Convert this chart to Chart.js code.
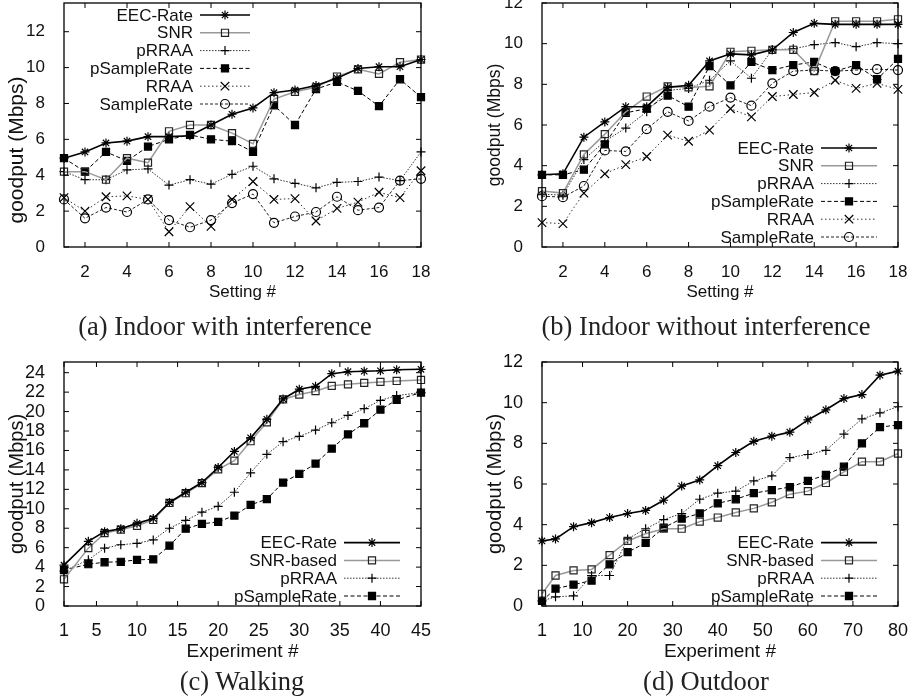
<!DOCTYPE html>
<html lang="en">
<head>
<meta charset="UTF-8">
<title>goodput per setting / experiment</title>
<style>
  body { margin: 0; background: #fff; width: 914px; height: 698px; position: relative; overflow: hidden; }
  canvas { position: absolute; }
  .caption {
    position: absolute;
    font-family: "Liberation Serif", "Times New Roman", serif;
    font-size: 26.5px;
    color: #222;
    white-space: nowrap;
    transform: translate(-50%, -50%);
  }
</style>
<script src="https://cdn.jsdelivr.net/npm/chart.js"></script>
</head>
<body>
<canvas id="chartA" width="457" height="310" style="left:0;top:0"></canvas>
<canvas id="chartB" width="457" height="310" style="left:457px;top:0"></canvas>
<canvas id="chartC" width="457" height="335" style="left:0;top:335px"></canvas>
<canvas id="chartD" width="457" height="335" style="left:457px;top:335px"></canvas>
<div class="caption" style="left:225px;top:326px">(a) Indoor with interference</div>
<div class="caption" style="left:706px;top:326px">(b) Indoor without interference</div>
<div class="caption" style="left:242px;top:681px">(c) Walking</div>
<div class="caption" style="left:706px;top:681px">(d) Outdoor</div>
<script>
// ---- data ----
// (a) indoor with interference, setting 1..18
const settings = [1, 2, 3, 4, 5, 6, 7, 8, 9, 10, 11, 12, 13, 14, 15, 16, 17, 18];
const eecA = [4.95, 5.3, 5.8, 5.9, 6.15, 6.15, 6.2, 6.8, 7.4, 7.75, 8.6, 8.75, 9.0, 9.4, 9.95, 10.05, 10.05, 10.45];
const snrA = [4.2, 4.2, 3.75, 4.95, 4.7, 6.45, 6.8, 6.8, 6.35, 5.75, 8.25, 8.65, 8.9, 9.5, 9.9, 9.65, 10.3, 10.45];
const prraaA = [4.2, 3.75, 3.75, 4.3, 4.35, 3.45, 3.75, 3.5, 4.05, 4.5, 3.8, 3.55, 3.3, 3.6, 3.65, 3.9, 3.7, 5.3];
const psampleA = [4.95, 4.2, 5.3, 4.8, 5.6, 6.0, 6.25, 6.0, 5.9, 5.3, 7.9, 6.8, 8.8, 9.2, 8.7, 7.85, 9.35, 8.35];
const rraaA = [2.75, 2.0, 2.8, 2.85, 2.65, 0.85, 2.25, 1.15, 2.65, 3.65, 2.65, 2.7, 1.45, 2.15, 2.5, 3.05, 2.75, 4.25];
const sampleA = [2.65, 1.6, 2.2, 1.95, 2.65, 1.5, 1.1, 1.5, 2.45, 2.95, 1.35, 1.7, 1.95, 2.8, 2.05, 2.2, 3.7, 3.8];

// (b) indoor without interference
const eecB = [3.55, 3.6, 5.4, 6.15, 6.9, 6.9, 7.85, 7.95, 9.15, 9.5, 9.45, 9.7, 10.55, 11.0, 10.95, 10.95, 10.95, 10.95];
const snrB = [2.75, 2.65, 4.55, 5.55, 6.65, 7.4, 7.9, 7.85, 7.9, 9.6, 9.65, 9.7, 9.7, 8.65, 11.1, 11.1, 11.1, 11.2];
const prraaB = [2.6, 2.55, 4.3, 5.2, 5.85, 6.65, 7.7, 7.8, 8.2, 9.15, 8.3, 9.7, 9.75, 9.95, 10.05, 9.85, 10.05, 10.0];
const psampleB = [3.55, 3.55, 3.8, 5.05, 6.6, 6.8, 7.45, 6.9, 8.9, 7.95, 9.1, 8.7, 8.95, 9.1, 8.65, 8.95, 8.25, 9.25];
const rraaB = [1.2, 1.15, 2.65, 3.6, 4.05, 4.45, 5.5, 5.2, 5.75, 6.8, 6.4, 7.4, 7.5, 7.6, 8.2, 7.8, 8.05, 7.75];
const sampleB = [2.5, 2.45, 3.0, 4.75, 4.7, 5.8, 6.65, 6.2, 6.9, 7.35, 6.95, 8.05, 8.65, 8.7, 8.65, 8.7, 8.75, 8.7];

// (c) walking
const walkExp = [1, 4, 6, 8, 10, 12, 14, 16, 18, 20, 22, 24, 26, 28, 30, 32, 34, 36, 38, 40, 42, 45];
const eecC = [4.2, 6.65, 7.65, 7.95, 8.5, 9.0, 10.65, 11.7, 12.7, 14.25, 15.9, 17.3, 19.2, 21.3, 22.3, 22.6, 23.9, 24.1, 24.15, 24.2, 24.3, 24.35];
const snrC = [2.75, 5.95, 7.5, 7.85, 8.25, 8.85, 10.6, 11.6, 12.65, 14.05, 14.95, 16.95, 18.9, 21.25, 21.75, 22.1, 22.65, 22.8, 22.95, 23.05, 23.15, 23.25];
const prraaC = [3.6, 4.75, 5.95, 6.3, 6.45, 6.8, 8.0, 8.8, 9.65, 10.25, 11.7, 13.7, 15.6, 16.9, 17.45, 18.1, 18.85, 19.6, 20.3, 21.15, 21.65, 21.95];
const psampleC = [3.7, 4.3, 4.5, 4.55, 4.75, 4.8, 6.2, 7.95, 8.45, 8.65, 9.3, 10.4, 11.0, 12.7, 13.6, 14.65, 16.2, 17.65, 18.8, 20.2, 21.2, 21.95];

// (d) outdoor
const outExp = [1, 4, 8, 12, 16, 20, 24, 28, 32, 36, 40, 44, 48, 52, 56, 60, 64, 68, 72, 76, 80];
const eecD = [3.2, 3.3, 3.9, 4.1, 4.35, 4.55, 4.7, 5.2, 5.9, 6.2, 6.9, 7.55, 8.1, 8.35, 8.55, 9.15, 9.65, 10.2, 10.4, 11.35, 11.55];
const snrD = [0.6, 1.5, 1.75, 1.8, 2.5, 3.2, 3.55, 3.8, 3.8, 4.15, 4.35, 4.6, 4.8, 5.1, 5.5, 5.65, 6.05, 6.6, 7.1, 7.1, 7.5];
const prraaD = [0.25, 0.45, 0.5, 1.5, 1.5, 3.3, 3.8, 4.25, 4.55, 5.25, 5.55, 5.65, 6.15, 6.4, 7.3, 7.45, 7.65, 8.45, 9.2, 9.5, 9.8];
const psampleD = [0.25, 0.85, 1.05, 1.25, 2.05, 2.65, 3.1, 3.85, 4.3, 4.55, 5.05, 5.25, 5.55, 5.7, 5.85, 6.15, 6.45, 6.85, 8.0, 8.8, 8.9];

// tick labels
const settingTicks = [2, 4, 6, 8, 10, 12, 14, 16, 18];
const goodputTicks12 = [0, 2, 4, 6, 8, 10, 12];
const walkTicks = [1, 5, 10, 15, 20, 25, 30, 35, 40, 45];
const walkGoodputTicks = [0, 2, 4, 6, 8, 10, 12, 14, 16, 18, 20, 22, 24];
const outTicks = [1, 10, 20, 30, 40, 50, 60, 70, 80];

// ---- styles per scheme ----
const SANS = '"Liberation Sans", Arial, sans-serif';
const looks = {
  'EEC-Rate':    { borderColor: '#000', borderWidth: 1.6, pointStyle: 'star', pointRadius: 4.5, pointBackgroundColor: 'rgba(0,0,0,0)' },
  'SNR':         { borderColor: '#999', borderWidth: 1.5, pointStyle: 'rect', pointRadius: 5, pointBackgroundColor: 'rgba(0,0,0,0)', pointBorderColor: '#222' },
  'pRRAA':       { borderColor: '#333', borderWidth: 1, borderDash: [1.5, 1.5], pointStyle: 'cross', pointRadius: 4.5, pointBackgroundColor: 'rgba(0,0,0,0)' },
  'pSampleRate': { borderColor: '#000', borderWidth: 1, borderDash: [4, 2.5], pointStyle: 'rect', pointRadius: 5, pointBackgroundColor: '#000' },
  'RRAA':        { borderColor: '#333', borderWidth: 1, borderDash: [1.5, 2.5], pointStyle: 'crossRot', pointRadius: 6, pointBackgroundColor: 'rgba(0,0,0,0)' },
  'SampleRate':  { borderColor: '#222', borderWidth: 1, borderDash: [3, 2], pointStyle: 'circle', pointRadius: 4.5, pointBackgroundColor: 'rgba(0,0,0,0)' }
};

function series(label, look, xs, ys) {
  const s = looks[look];
  return Object.assign({
    label: label,
    data: xs.map((x, i) => ({ x: x, y: ys[i] })),
    pointBorderColor: s.pointBorderColor || '#000',
    pointBorderWidth: 1.2,
    pointHoverRadius: s.pointRadius,
    fill: false,
    tension: 0,
    clip: false
  }, s);
}

// marker drawer for the key
function mark(ctx, style, r, x, y, fill) {
  ctx.beginPath();
  if (style === 'rect') {
    const s = r * Math.SQRT1_2;
    ctx.rect(x - s, y - s, 2 * s, 2 * s);
    if (fill) ctx.fill();
    ctx.stroke();
    return;
  }
  if (style === 'circle') {
    ctx.arc(x, y, r, 0, Math.PI * 2);
    if (fill) ctx.fill();
    ctx.stroke();
    return;
  }
  if (style === 'cross' || style === 'star') {
    ctx.moveTo(x - r, y); ctx.lineTo(x + r, y);
    ctx.moveTo(x, y - r); ctx.lineTo(x, y + r);
  }
  if (style === 'crossRot' || style === 'star') {
    const d = r * Math.SQRT1_2;
    ctx.moveTo(x - d, y - d); ctx.lineTo(x + d, y + d);
    ctx.moveTo(x - d, y + d); ctx.lineTo(x + d, y - d);
  }
  ctx.stroke();
}

// box with inward ticks on all four sides (gnuplot look)
const frame = {
  id: 'frame',
  afterDatasetsDraw(chart) {
    const { ctx, chartArea: a, scales } = chart;
    ctx.save();
    ctx.strokeStyle = '#000';
    ctx.lineWidth = 1.3;
    ctx.setLineDash([]);
    ctx.strokeRect(a.left, a.top, a.right - a.left, a.bottom - a.top);
    ctx.lineWidth = 1;
    ctx.beginPath();
    scales.x.ticks.forEach(t => {
      const px = scales.x.getPixelForValue(t.value);
      ctx.moveTo(px, a.bottom); ctx.lineTo(px, a.bottom - 5);
      ctx.moveTo(px, a.top); ctx.lineTo(px, a.top + 5);
    });
    scales.y.ticks.forEach(t => {
      const py = scales.y.getPixelForValue(t.value);
      ctx.moveTo(a.left, py); ctx.lineTo(a.left + 5, py);
      ctx.moveTo(a.right, py); ctx.lineTo(a.right - 5, py);
    });
    ctx.stroke();
    ctx.restore();
  }
};

// key (text left, line sample + marker right) and the rotated y title
const keyBox = {
  id: 'keyBox',
  afterDraw(chart, args, opts) {
    const { ctx, chartArea: a } = chart;
    const sets = chart.data.datasets;
    const row = 17.8;
    let x0, x1, y0;
    if (opts.corner === 'tl') {
      x0 = a.left + 136; x1 = x0 + 50; y0 = a.top + 12;
    } else {
      x1 = a.right - 21; x0 = x1 - 56; y0 = a.bottom - 10 - row * (sets.length - 1);
    }
    ctx.save();
    sets.forEach((ds, i) => {
      const y = y0 + i * row;
      ctx.fillStyle = '#111';
      ctx.font = '17px ' + SANS;
      ctx.textAlign = 'right';
      ctx.textBaseline = 'middle';
      ctx.fillText(ds.label, x0 - 7, y + 1);
      ctx.strokeStyle = ds.borderColor;
      ctx.lineWidth = ds.borderWidth;
      ctx.setLineDash(ds.borderDash || []);
      ctx.beginPath();
      ctx.moveTo(x0, y); ctx.lineTo(x1, y);
      ctx.stroke();
      ctx.setLineDash([]);
      ctx.strokeStyle = ds.pointBorderColor;
      ctx.fillStyle = ds.pointBackgroundColor;
      ctx.lineWidth = 1.2;
      mark(ctx, ds.pointStyle, ds.pointRadius, (x0 + x1) / 2, y, ds.pointBackgroundColor === '#000');
    });
    // y axis title
    ctx.translate(opts.titleX, (a.top + a.bottom) / 2 + opts.titleShift);
    ctx.rotate(-Math.PI / 2);
    ctx.fillStyle = '#111';
    ctx.font = opts.titleSize + 'px ' + SANS;
    ctx.textAlign = 'center';
    ctx.textBaseline = 'middle';
    ctx.fillText('goodput (Mbps)', 0, 0);
    ctx.restore();
  }
};

function axes(o) {
  return {
    x: {
      type: 'linear', min: o.xMin, max: o.xMax,
      grid: { display: false }, border: { display: false },
      afterBuildTicks: s => { s.ticks = o.xTicks.map(v => ({ value: v })); },
      afterFit: s => { s.height = o.xHeight; s.paddingLeft = 0; s.paddingRight = 0; },
      ticks: { color: '#111', font: { family: SANS, size: o.tickSize }, padding: o.xPad, maxRotation: 0, autoSkip: false },
      title: { display: true, text: o.xTitle, color: '#111', font: { family: SANS, size: o.xTitleSize }, padding: { top: 0, bottom: o.xTitlePad } }
    },
    y: {
      type: 'linear', min: 0, max: o.yMax,
      grid: { display: false }, border: { display: false },
      afterBuildTicks: s => { s.ticks = o.yTicks.map(v => ({ value: v })); },
      afterFit: s => { s.width = o.yWidth; s.paddingTop = 0; s.paddingBottom = 0; },
      ticks: { color: '#111', font: { family: SANS, size: o.tickSize }, padding: 11, autoSkip: false }
    }
  };
}

function draw(id, datasets, scaleOpts, pad, key) {
  new Chart(document.getElementById(id), {
    type: 'line',
    data: { datasets: datasets },
    options: {
      responsive: false,
      animation: false,
      events: [],
      layout: { padding: pad, autoPadding: false },
      plugins: { legend: { display: false }, tooltip: { enabled: false }, keyBox: key },
      scales: axes(scaleOpts)
    },
    plugins: [frame, keyBox]
  });
}

draw('chartA', [
  series('EEC-Rate', 'EEC-Rate', settings, eecA),
  series('SNR', 'SNR', settings, snrA),
  series('pRRAA', 'pRRAA', settings, prraaA),
  series('pSampleRate', 'pSampleRate', settings, psampleA),
  series('RRAA', 'RRAA', settings, rraaA),
  series('SampleRate', 'SampleRate', settings, sampleA)
], { xMin: 1, xMax: 18, xTicks: settingTicks, yMax: 13.6, yTicks: goodputTicks12, xTitle: 'Setting #',
     tickSize: 17, xTitleSize: 17, xPad: 7, xHeight: 63, xTitlePad: 7, yWidth: 64 },
   { top: 3, right: 36, left: 0, bottom: 0 }, { corner: 'tl', titleSize: 21, titleShift: 25, titleX: 17 });

draw('chartB', [
  series('EEC-Rate', 'EEC-Rate', settings, eecB),
  series('SNR', 'SNR', settings, snrB),
  series('pRRAA', 'pRRAA', settings, prraaB),
  series('pSampleRate', 'pSampleRate', settings, psampleB),
  series('RRAA', 'RRAA', settings, rraaB),
  series('SampleRate', 'SampleRate', settings, sampleB)
], { xMin: 1, xMax: 18, xTicks: settingTicks, yMax: 12, yTicks: goodputTicks12, xTitle: 'Setting #',
     tickSize: 17, xTitleSize: 17, xPad: 7, xHeight: 63, xTitlePad: 7, yWidth: 85 },
   { top: 3, right: 16, left: 0, bottom: 0 }, { corner: 'br', titleSize: 17.5, titleShift: 0, titleX: 38 });

draw('chartC', [
  series('EEC-Rate', 'EEC-Rate', walkExp, eecC),
  series('SNR-based', 'SNR', walkExp, snrC),
  series('pRRAA', 'pRRAA', walkExp, prraaC),
  series('pSampleRate', 'pSampleRate', walkExp, psampleC)
], { xMin: 1, xMax: 45, xTicks: walkTicks, yMax: 25.1, yTicks: walkGoodputTicks, xTitle: 'Experiment #',
     tickSize: 18, xTitleSize: 19, xPad: 6, xHeight: 64, xTitlePad: 7, yWidth: 64 },
   { top: 27, right: 36, left: 0, bottom: 0 }, { corner: 'br', titleSize: 20, titleShift: 0, titleX: 17 });

draw('chartD', [
  series('EEC-Rate', 'EEC-Rate', outExp, eecD),
  series('SNR-based', 'SNR', outExp, snrD),
  series('pRRAA', 'pRRAA', outExp, prraaD),
  series('pSampleRate', 'pSampleRate', outExp, psampleD)
], { xMin: 1, xMax: 80, xTicks: outTicks, yMax: 12, yTicks: goodputTicks12, xTitle: 'Experiment #',
     tickSize: 18, xTitleSize: 19, xPad: 6, xHeight: 64, xTitlePad: 7, yWidth: 85 },
   { top: 27, right: 16, left: 0, bottom: 0 }, { corner: 'br', titleSize: 20, titleShift: 0, titleX: 38 });
</script>
</body>
</html>
